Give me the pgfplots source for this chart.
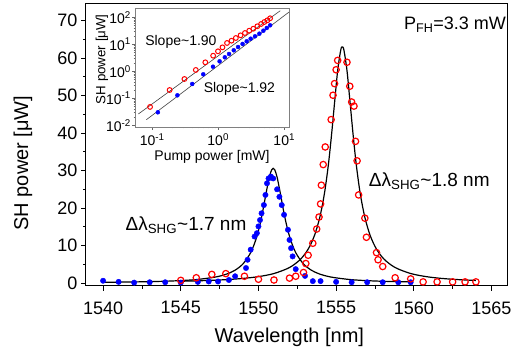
\documentclass[border=0pt]{standalone}
\usepackage{fontspec}
\setmainfont{Liberation Sans}
\usepackage{pgfplots}
\pgfplotsset{compat=1.18}
\definecolor{myred}{RGB}{255,0,0}
\definecolor{myblue}{RGB}{0,0,255}
\begin{document}
\begin{tikzpicture}
\begin{axis}[name=main, scale only axis, width=421pt, height=282pt,
 xmin=1538.9, xmax=1566.0, ymin=-0.8, ymax=74.45,
 xtick={1540,1545,...,1565}, ytick={0,10,...,70},
 minor x tick num=1, minor y tick num=1,
 tick align=outside, xtick pos=left, ytick pos=left,
 major tick length=5pt, minor tick length=3pt,
 every tick/.style={black, line width=0.8pt},
 axis line style={line width=1pt},
 tick label style={font=\fontsize{18}{18}\selectfont},
 xticklabel style={yshift=-7pt},
 /pgf/number format/assume math mode=true,
 /pgf/number format/1000 sep={},
 xlabel={Wavelength [nm]}, ylabel={SH power [μW]},
 label style={font=\fontsize{20}{20}\selectfont},
 xlabel style={at={(axis description cs:0.483,-0.181)},anchor=center},
 ylabel style={at={(axis description cs:-0.150,0.436)},anchor=center},
]
\addplot[black, line width=1.2pt, smooth] coordinates {
(1540,0.192)(1541,0.232)(1542,0.286)(1543,0.362)(1544,0.473)(1545,0.644)(1546,0.917)(1547,1.43)(1547.5,1.83)(1548,2.45)(1548.5,3.43)(1549,5.08)(1549.5,8.10)(1549.85,11.78)(1550.1,15.66)(1550.3,19.64)(1550.5,24.14)(1550.7,28.26)(1550.85,30.2)(1550.95,30.6)(1551.05,30.2)(1551.2,28.26)(1551.4,24.14)(1551.6,19.64)(1551.8,15.66)(1552.05,11.78)(1552.4,8.10)(1552.9,5.08)(1553.4,3.43)(1553.9,2.45)(1554.4,1.83)(1554.9,1.43)(1555.9,0.917)(1556.9,0.644)(1557.9,0.473)(1558.9,0.362)(1559.9,0.286)};
\addplot[black, line width=1.2pt, smooth] coordinates {
(1545,0.468)(1546,0.572)(1547,0.715)(1548,0.918)(1549,1.22)(1550,1.70)(1551,2.53)(1552,4.13)(1552.7,6.3)(1553.2,9.03)(1553.6,12.6)(1553.95,17.52)(1554.25,23.93)(1554.5,31.5)(1554.7,39.3)(1554.9,48.1)(1555.1,56.7)(1555.3,62.2)(1555.4,63.0)(1555.5,62.2)(1555.7,56.7)(1555.9,48.1)(1556.1,39.3)(1556.3,31.5)(1556.55,23.93)(1556.85,17.52)(1557.2,12.6)(1557.6,9.03)(1558.1,6.3)(1558.8,4.13)(1559.8,2.53)(1560.8,1.70)(1561.8,1.22)(1562.8,0.918)(1563.8,0.715)(1564,0.683)};
\addplot[only marks, mark=*, mark size=2.7pt, myblue, mark options={draw=myblue, fill=myblue}] coordinates {
(1540.0,0.6)(1541.0,0.3)(1542.0,0.1)(1543.0,0.2)(1544.0,0.2)(1545.0,0.1)(1546.1,0.3)(1546.8,0.4)(1547.4,0.4)(1548.1,0.8)(1548.5,1.8)(1549.2,4.0)(1549.3,6.2)(1549.5,8.9)(1549.75,12.4)(1549.9,13.3)(1550.0,15.1)(1550.1,16.8)(1550.2,18.6)(1550.35,20.8)(1550.45,23.5)(1550.55,26.6)(1550.65,27.9)(1550.8,28.4)(1550.95,27.9)(1551.2,25.0)(1551.35,23.0)(1551.5,20.8)(1551.65,18.2)(1551.9,14.2)(1552.0,11.5)(1552.1,9.3)(1552.2,7.1)(1552.4,3.7)(1553.0,1.9)(1553.5,0.5)(1554.0,0.5)(1555.0,0.3)(1556,0.2)(1557,0.2)(1558,0.2)(1559,0.2)(1559.8,0.2)};
\addplot[only marks, mark=o, mark size=3.2pt, myred, mark options={line width=1.2pt, fill=none}] coordinates {
(1545.0,0.7)(1546.0,1.4)(1547.0,2.3)(1547.9,2.5)(1549.1,1.8)(1550.0,1.0)(1551.0,0.8)(1552.0,1.3)(1552.4,1.8)(1552.9,2.8)(1553.05,5.2)(1553.2,7.4)(1553.5,10.6)(1553.75,14.4)(1553.9,17.6)(1554.0,21.1)(1554.05,26.1)(1554.17,31.6)(1554.3,36.3)(1554.68,43.6)(1554.8,50.1)(1554.9,53.2)(1555.0,56.9)(1555.1,59.4)(1555.7,58.9)(1555.88,52.5)(1556.0,48.3)(1556.15,47.2)(1556.25,37.8)(1556.35,32.6)(1556.45,23.5)(1556.85,17.3)(1556.95,12.2)(1557.6,8.1)(1557.7,6.2)(1558.0,4.4)(1558.8,1.4)(1559.8,1.1)(1560.6,0.3)(1561.5,0.3)(1562.5,0.3)(1563.3,0.3)(1564.0,0.3)};
\node[anchor=base west, font=\fontsize{18}{18}\selectfont, inner sep=0pt] at (axis cs:1559.36,67.7) {P\textsubscript{FH}=3.3 mW};
\node[anchor=base west, font=\fontsize{19}{19}\selectfont, inner sep=0pt] at (axis cs:1541.44,14.0) {Δλ\textsubscript{SHG}\textasciitilde 1.7 nm};
\node[anchor=base west, font=\fontsize{19}{19}\selectfont, inner sep=0pt] at (axis cs:1557.1,25.75) {Δλ\textsubscript{SHG}\textasciitilde 1.8 nm};
\end{axis}
\begin{axis}[name=inset, at={(main.south west)}, anchor=south west, xshift=49pt, yshift=159pt,
 scale only axis, width=154pt, height=119pt,
 xmode=log, ymode=log, xmin=0.055, xmax=11.8, ymin=0.00865, ymax=221,
 xtick={0.1,1,10}, xticklabels={10\textsuperscript{-1},10\textsuperscript{0},10\textsuperscript{1}},
 ytick={0.01,0.1,1,10,100}, yticklabels={10\textsuperscript{-2},10\textsuperscript{-1},10\textsuperscript{0},10\textsuperscript{1},10\textsuperscript{2}},
 axis line style={black!50, line width=0.8pt},
 tick align=outside, xtick pos=left, ytick pos=left,
 major tick length=3pt, minor tick length=1.5pt,
 every tick/.style={black!60, line width=0.6pt},
 tick label style={font=\fontsize{14}{14}\selectfont},
 yticklabel style={inner sep=1pt},
 axis background/.style={fill=white},
 xlabel={Pump power [mW]}, ylabel={SH power [μW]},
 xlabel style={font=\fontsize{14}{14}\selectfont, at={(axis description cs:0.5,-0.25)}, anchor=center},
 ylabel style={font=\fontsize{13.3}{13.3}\selectfont, at={(axis description cs:-0.215,0.57)}, anchor=center},
]
\addplot[black!75, line width=0.6pt] coordinates {(0.0618,0.0262)(8.69,175)};
\addplot[black!75, line width=0.6pt] coordinates {(0.0818,0.0161)(11.8,156)};
\addplot[only marks, mark=o, mark size=2.4pt, myred, mark options={line width=1pt, fill=none}] coordinates {
(0.093,0.048)(0.184,0.203)(0.308,0.519)(0.458,1.12)(0.638,2.15)(0.839,3.78)(0.993,5.5)(1.16,7.7)(1.36,11.2)(1.59,13.6)(1.85,17.1)(2.18,21.5)(2.54,26.2)(2.95,31.9)(3.40,37.8)(3.91,46.5)(4.46,56.5)(5.0,67)(5.56,77.4)(6.11,92)};
\addplot[only marks, mark=*, mark size=2pt, myblue, mark options={draw=myblue, fill=myblue}] coordinates {
(0.122,0.0303)(0.241,0.129)(0.404,0.339)(0.594,0.774)(0.834,1.48)(1.05,2.34)(1.26,3.30)(1.46,4.38)(1.72,6.0)(2.0,7.94)(2.34,10.3)(2.70,12.9)(3.10,16.1)(3.61,19.8)(4.20,24.7)(4.83,31.9)(5.44,40.2)(6.11,50.6)};
\node[anchor=base west, font=\fontsize{14}{14}\selectfont, inner sep=0pt] at (axis cs:0.0782,8.87) {Slope\textasciitilde 1.90};
\node[anchor=base west, font=\fontsize{14}{14}\selectfont, inner sep=0pt] at (axis cs:0.601,0.167) {Slope\textasciitilde 1.92};
\end{axis}
\pgfresetboundingbox
\path ([xshift=-86pt,yshift=-70pt]main.south west) rectangle ([xshift=13pt,yshift=4pt]main.north east);
\end{tikzpicture}
\end{document}
